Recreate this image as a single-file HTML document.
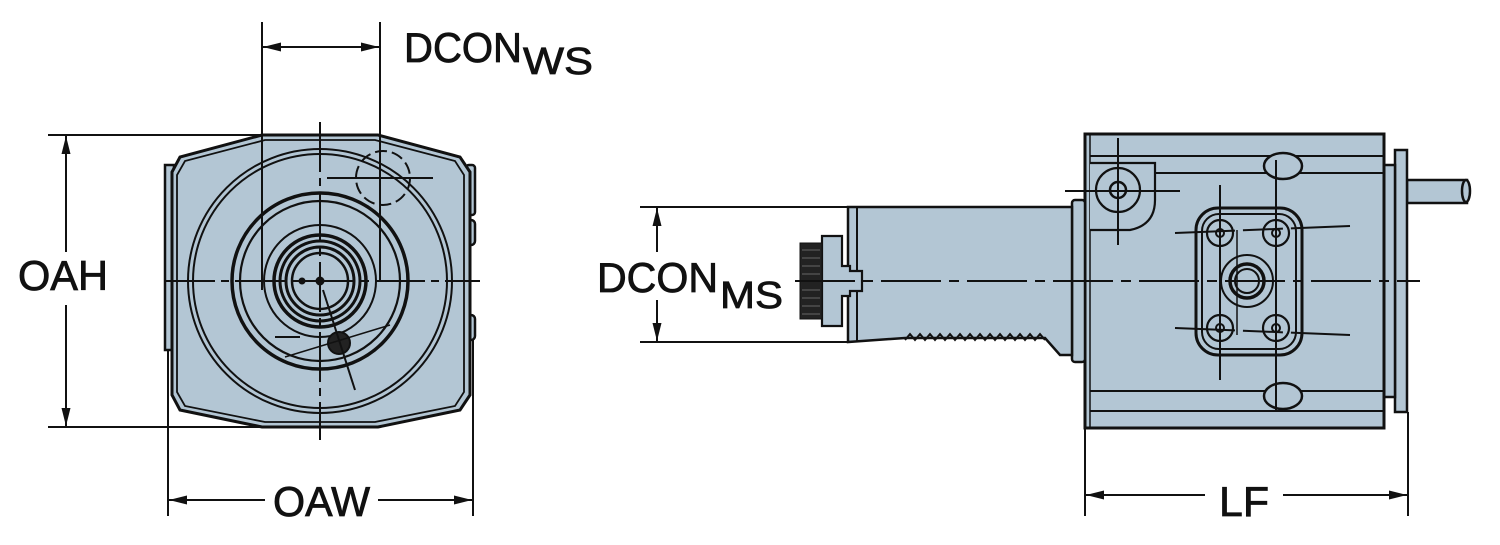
<!DOCTYPE html>
<html><head><meta charset="utf-8"><style>html,body{margin:0;padding:0;background:#fff}svg{display:block}</style></head>
<body>
<svg width="1500" height="545" viewBox="0 0 1500 545" xmlns="http://www.w3.org/2000/svg" font-family="'Liberation Sans',Arial,sans-serif">
<defs>
<marker id="a" viewBox="0 0 18 10" refX="18" refY="5" markerWidth="18" markerHeight="10" markerUnits="userSpaceOnUse" orient="auto-start-reverse"><path d="M0,0.5 L18,5 L0,9.5 z" fill="#111"/></marker>
</defs>
<g stroke="#111" fill="none">
<!-- LEFT VIEW -->
<rect x="165" y="165" width="9" height="185" fill="#b3c6d4" stroke-width="2.5"/>
<rect x="466" y="165" width="9" height="50" rx="3" fill="#b3c6d4" stroke-width="2.5"/>
<rect x="466" y="220" width="9" height="25" rx="4" fill="#b3c6d4" stroke-width="2.5"/>
<rect x="466" y="315" width="9" height="25" rx="4" fill="#b3c6d4" stroke-width="2.5"/>
<polygon points="262,135 378,135 460,157 470,172 470,395 460,410 378,427 262,427 180,410 172,395 172,172 180,157" fill="#b3c6d4" stroke-width="3"/>
<polygon points="265,140 375,140 455,161 464,175 464,392 455,406 375,422 265,422 185,406 177,392 177,175 185,161" stroke-width="1.8"/>
<circle cx="320" cy="281" r="132" stroke-width="2"/>
<circle cx="320" cy="281" r="127" stroke-width="2"/>
<circle cx="320" cy="281" r="88" stroke-width="3.5"/>
<circle cx="320" cy="281" r="80" stroke-width="2.2"/>
<circle cx="320" cy="281" r="56" stroke-width="2"/>
<circle cx="320" cy="281" r="46" stroke-width="3.5"/>
<circle cx="320" cy="281" r="40" stroke-width="3"/>
<circle cx="320" cy="281" r="34" stroke-width="3"/>
<circle cx="320" cy="281" r="28" stroke-width="2.5"/>
<circle cx="320" cy="281" r="4" fill="#111"/>
<circle cx="302" cy="281" r="3" fill="#111"/>
<circle cx="339" cy="343" r="11" fill="#222" stroke-width="2"/>
<circle cx="383" cy="178" r="27" stroke-dasharray="12 5" stroke-width="2"/>
<line x1="327" y1="178" x2="433" y2="178" stroke-width="2"/>
<line x1="323" y1="290" x2="355" y2="390" stroke-width="2"/>
<line x1="285" y1="357" x2="390" y2="325" stroke-width="1.5"/>
<line x1="275" y1="337" x2="300" y2="337" stroke-width="2"/>
<line x1="165" y1="281" x2="480" y2="281" stroke-width="2" stroke-dasharray="50 6 8 6"/>
<line x1="320" y1="122" x2="320" y2="440" stroke-width="2" stroke-dasharray="50 6 8 6"/>
<!-- left dims -->
<line x1="262" y1="22" x2="262" y2="290" stroke-width="2"/>
<line x1="380" y1="22" x2="380" y2="280" stroke-width="2"/>
<line x1="263" y1="47" x2="379" y2="47" stroke-width="2" marker-start="url(#a)" marker-end="url(#a)"/>
<line x1="48" y1="135" x2="262" y2="135" stroke-width="2"/>
<line x1="48" y1="427" x2="262" y2="427" stroke-width="2"/>
<line x1="66" y1="136" x2="66" y2="252" stroke-width="2" marker-start="url(#a)"/>
<line x1="66" y1="305" x2="66" y2="426" stroke-width="2" marker-end="url(#a)"/>
<line x1="168" y1="350" x2="168" y2="516" stroke-width="2"/>
<line x1="473" y1="340" x2="473" y2="516" stroke-width="2"/>
<line x1="169" y1="500" x2="265" y2="500" stroke-width="2" marker-start="url(#a)"/>
<line x1="378" y1="500" x2="472" y2="500" stroke-width="2" marker-end="url(#a)"/>

<!-- RIGHT VIEW -->
<rect x="1407" y="180" width="60" height="23" fill="#b3c6d4" stroke-width="2.5"/>
<ellipse cx="1466" cy="191" rx="4" ry="11" fill="#b3c6d4" stroke-width="2.5"/>
<rect x="1395" y="150" width="12" height="262" fill="#b3c6d4" stroke-width="2.5"/>
<rect x="1384" y="165" width="11" height="232" fill="#b3c6d4" stroke-width="2.5"/>
<rect x="1085" y="134" width="299" height="294" fill="#b3c6d4" stroke-width="3"/>
<line x1="1090" y1="156" x2="1384" y2="156" stroke-width="2"/>
<line x1="1155" y1="173" x2="1384" y2="173" stroke-width="2"/>
<line x1="1090" y1="391" x2="1384" y2="391" stroke-width="2"/>
<line x1="1090" y1="411" x2="1384" y2="411" stroke-width="2"/>
<line x1="1090" y1="134" x2="1090" y2="428" stroke-width="1.5"/>
<path d="M1090,163 L1155,163 L1155,200 Q1155,225 1130,230 L1090,230" fill="#b3c6d4" stroke-width="2.2"/>
<circle cx="1118" cy="190" r="22" stroke-width="2.2"/>
<circle cx="1118" cy="190" r="8" stroke-width="2.5"/>
<line x1="1065" y1="191" x2="1180" y2="191" stroke-width="2"/>
<line x1="1118" y1="138" x2="1118" y2="245" stroke-width="2"/>
<ellipse cx="1283" cy="166" rx="19" ry="13" fill="#b3c6d4" stroke-width="2.5"/>
<ellipse cx="1283" cy="396" rx="19" ry="13" fill="#b3c6d4" stroke-width="2.5"/>
<rect x="1196" y="208" width="106" height="147" rx="22" stroke-width="3"/>
<rect x="1202" y="214" width="94" height="135" rx="17" stroke-width="2"/>
<circle cx="1220" cy="233" r="13" stroke-width="2.2"/><circle cx="1220" cy="233" r="4" stroke-width="2"/>
<circle cx="1276" cy="233" r="13" stroke-width="2.2"/><circle cx="1276" cy="233" r="4" stroke-width="2"/>
<circle cx="1220" cy="328" r="13" stroke-width="2.2"/><circle cx="1220" cy="328" r="4" stroke-width="2"/>
<circle cx="1276" cy="328" r="13" stroke-width="2.2"/><circle cx="1276" cy="328" r="4" stroke-width="2"/>
<circle cx="1247" cy="281" r="26" stroke-width="2"/>
<circle cx="1247" cy="281" r="17" stroke-width="3.5"/>
<circle cx="1247" cy="281" r="12" stroke-width="2"/>
<line x1="1175" y1="233" x2="1350" y2="226" stroke-width="2" stroke-dasharray="60 8 40 8"/>
<line x1="1175" y1="328" x2="1350" y2="335" stroke-width="2" stroke-dasharray="60 8 40 8"/>
<line x1="1220" y1="185" x2="1220" y2="380" stroke-width="2"/>
<line x1="1276" y1="160" x2="1276" y2="410" stroke-width="2"/>
<line x1="1237" y1="230" x2="1237" y2="335" stroke-width="1.5"/>
<!-- neck -->
<rect x="1072" y="200" width="13" height="162" rx="3" fill="#b3c6d4" stroke-width="2.5"/>
<path d="M848,207 L1072,207 L1072,355 L1060,355 L1045,338 L905,338 L848,342 Z" fill="#b3c6d4" stroke-width="2.5"/>
<path d="M905,340 l5,-6 l5,6 l5,-6 l5,6 l5,-6 l5,6 l5,-6 l5,6 l5,-6 l5,6 l5,-6 l5,6 l5,-6 l5,6 l5,-6 l5,6 l5,-6 l5,6 l5,-6 l5,6 l5,-6 l5,6 l5,-6 l5,6 l5,-6 l5,6 l5,-6 l5,6" stroke-width="2"/>
<line x1="857" y1="207" x2="857" y2="342" stroke-width="2"/>
<path d="M822,236 L842,236 L842,266 L850,266 L850,271 L862,271 L862,291 L850,291 L850,296 L842,296 L842,326 L822,326 Z" fill="#b3c6d4" stroke-width="2.2"/>
<rect x="800" y="243" width="22" height="76" fill="#222" stroke="#111"/>
<g stroke="#666" stroke-width="1"><line x1="802" y1="250" x2="820" y2="250"/><line x1="802" y1="258" x2="820" y2="258"/><line x1="802" y1="266" x2="820" y2="266"/><line x1="802" y1="274" x2="820" y2="274"/><line x1="802" y1="290" x2="820" y2="290"/><line x1="802" y1="298" x2="820" y2="298"/><line x1="802" y1="306" x2="820" y2="306"/><line x1="802" y1="314" x2="820" y2="314"/></g>
<line x1="795" y1="281" x2="1420" y2="281" stroke-width="2" stroke-dasharray="60 8 10 8"/>
<!-- right dims -->
<line x1="640" y1="207" x2="848" y2="207" stroke-width="2"/>
<line x1="640" y1="342" x2="848" y2="342" stroke-width="2"/>
<line x1="657" y1="208" x2="657" y2="252" stroke-width="2" marker-start="url(#a)"/>
<line x1="657" y1="300" x2="657" y2="341" stroke-width="2" marker-end="url(#a)"/>
<line x1="1085" y1="428" x2="1085" y2="516" stroke-width="2"/>
<line x1="1408" y1="412" x2="1408" y2="516" stroke-width="2"/>
<line x1="1086" y1="495" x2="1205" y2="495" stroke-width="2" marker-start="url(#a)"/>
<line x1="1283" y1="495" x2="1407" y2="495" stroke-width="2" marker-end="url(#a)"/>
</g>
<g fill="#111" stroke="#111" stroke-width="0.8" font-size="42">
<text x="404" y="62" textLength="118" lengthAdjust="spacingAndGlyphs">DCON</text>
<text x="523" y="74" font-size="38" textLength="70" lengthAdjust="spacingAndGlyphs">WS</text>
<text x="18" y="290" textLength="90" lengthAdjust="spacingAndGlyphs">OAH</text>
<text x="273" y="516" textLength="97" lengthAdjust="spacingAndGlyphs">OAW</text>
<text x="597" y="292" textLength="121" lengthAdjust="spacingAndGlyphs">DCON</text>
<text x="720" y="308" font-size="38" textLength="63" lengthAdjust="spacingAndGlyphs">MS</text>
<text x="1219" y="516" textLength="50" lengthAdjust="spacingAndGlyphs">LF</text>
</g>
</svg>
</body></html>
